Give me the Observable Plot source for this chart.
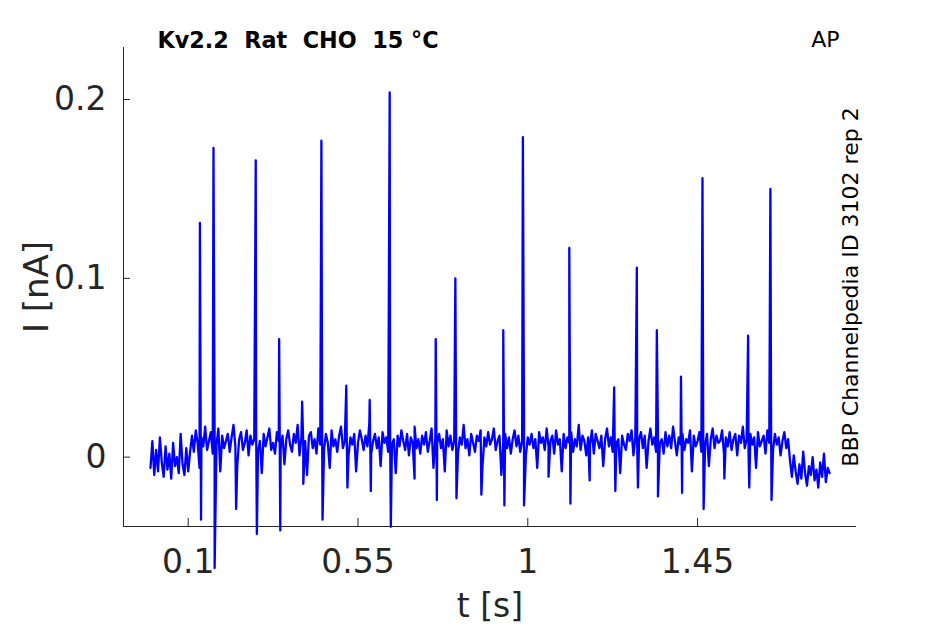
<!DOCTYPE html>
<html>
<head>
<meta charset="utf-8">
<script src="https://cdn.jsdelivr.net/npm/d3@7"></script>
<script src="https://cdn.jsdelivr.net/npm/@observablehq/plot@0.6"></script>
<style>
  html, body { margin: 0; padding: 0; background: #ffffff; }
  svg text { white-space: pre; }
</style>
</head>
<body>
<div id="chart"></div>
<script>
// ---- data: time in s, baseline current read in pA (converted to nA below) ----
const sampleStart = 0;
const sampleStep = 0.005;
const baselinePA = [
  -6, 9, -10, 4, -8, 11, -3, -11, 6, -7, 2, -12, 8, -5, 0, -9, 13, -4, -10, 5, -8, 3,
  12, 3, 15, 8, -6, 11, 6, 17, 4, 9,
  14, 2, 10, 7, 16, -8, 12, 5, 9, 13,
  3, 11, 18, 6, -5, 10, 14, 4, 8, 15,
  1, 12, 7, 10, 17, 3, 9, -9, 13, 6,
  11, 16, 4, 8, 2, 14, 9, 5, 12, -4,
  10, 15, 7, 3, 13, 8, 18, 1, 11, 6,
  9, -10, 12, 14, 5, 10, 2, 16, 7, 11,
  4, 13, 8, -6, 15, 6, 10, 3, 12, 17,
  5, 9, 14, 1, 11, 7, 13, -8, 8, 15,
  10, 4, 12, 6, 19, 2, 9, 13, 5, 11,
  -5, 14, 8, 11, 3, 16, 7, 10, -9, 12,
  6, 15, 9, 4, 13, 1, 11, 8, 17, 5,
  10, 2, 12, 7, 14, 3, 9, 16, -6, 11,
  8, 13, 5, 10, -8, 15, 6, 12, 4, 9,
  14, 2, 11, 7, 18, 5, 10, 1, 13, 8,
  3, 12, 9, 15, -5, 11, 6, 14, 7, 10,
  16, 4, 9, 12, -10, 8, 13, 5, 11, 2,
  10, 15, 6, 12, 3, 9, 17, 1, 11, 7,
  13, 5, 10, -6, 14, 8, 11, 4, 16, 6,
  9, 12, 2, 15, 7, 10, -8, 13, 5, 11,
  8, 14, 3, 10, 6, 18, 4, 12, 9, 1,
  11, 7, 15, 2, 13, 9, 5, 12, -5, 10,
  16, 6, 11, 3, 14, 8, 10, -9, 12, 7,
  4, 13, 9, 15, 1, 11, 6, 10, 14, 5,
  12, -6, 9, 16, 7, 11, 3, 13, 8, 10,
  2, 14, 6, 12, 5, 17, 9, 1, 11, 7,
  13, 4, 10, 8, 15, -8, 12, 6, 9, 14,
  3, 11, 7, 13, -5, 10, 16, 5, 12, 8,
  9, 15, 2, 11, 6, 14, 4, 10, 13, 1,
  12, 8, 17, 5, 10, 3, 13, 7, 11, -6,
  14, 6, 9, 12, 2, 15, 8, 10, 4, 13,
  7, 11, 1, 9, 14, 5, 10,
  -2, -11, 1, -8, -15, -4, -12, 3, -9, -16, -5, -10, 0, -13, -7, -17, -3, -11, 2, -14, -6, -9
];
const spikeTimes   = [0.131, 0.167, 0.279, 0.341, 0.402, 0.453, 0.519, 0.581, 0.634, 0.756, 0.808, 0.935, 0.987, 1.110, 1.229, 1.289, 1.342, 1.406, 1.463, 1.584, 1.643];
const spikePeaks   = [0.131, 0.173, 0.166, 0.066, 0.031, 0.177, 0.040, 0.032, 0.204, 0.066, 0.100, 0.071, 0.179, 0.117, 0.039, 0.106, 0.071, 0.045, 0.156, 0.068, 0.150];
const spikeTroughs = [-0.035, -0.062, -0.043, -0.041, -0.015, -0.035, -0.017, -0.019, -0.039, -0.024, -0.023, -0.027, -0.027, -0.026, -0.019, -0.017, -0.022, -0.020, -0.029, -0.017, -0.024];
const troughLag = 0.003;
const dipTimes  = [0.227, 0.700, 0.877, 1.055, 1.164, 1.521];
const dipValues = [-0.029, -0.012, -0.021, -0.011, -0.013, -0.012];

const xTicks = [0.1, 0.55, 1, 1.45];
const yTicks = [0, 0.1, 0.2];
const xDomain = [-0.0715, 1.8712];
const yDomain = [-0.0388, 0.2291];

const titleText = "Kv2.2  Rat  CHO  15 °C";
const cornerText = "AP";
const sideText = "BBP Channelpedia ID 3102 rep 2";
const xLabel = "t [s]";
const yLabel = "I [nA]";

// ---- build trace table ----
const trace = [];
baselinePA.forEach((v, i) => trace.push({t: sampleStart + i * sampleStep, I: v / 1000}));
spikeTimes.forEach((t, i) => {
  trace.push({t: t, I: spikePeaks[i]});
  trace.push({t: t + troughLag, I: spikeTroughs[i]});
});
dipTimes.forEach((t, i) => trace.push({t: t, I: dipValues[i]}));
trace.sort((a, b) => a.t - b.t);

const axisColor = "#262626";
const frameW = 945 - 123 - 89;
const frameH = 624 - 47 - 98;

const chart = Plot.plot({
  width: 945,
  height: 624,
  marginLeft: 123,
  marginRight: 89,
  marginTop: 47,
  marginBottom: 98,
  style: {fontFamily: "DejaVu Sans", background: "#ffffff", overflow: "visible", color: axisColor},
  x: {domain: xDomain},
  y: {domain: yDomain},
  marks: [
    Plot.ruleX([xDomain[0]], {stroke: axisColor, strokeWidth: 1}),
    Plot.ruleY([yDomain[0]], {stroke: axisColor, strokeWidth: 1}),
    Plot.tickX(xTicks, {x: d => d, stroke: axisColor, insetTop: frameH - 8}),
    Plot.tickY(yTicks, {y: d => d, stroke: axisColor, insetRight: frameW - 7}),
    Plot.axisX({ticks: xTicks, tickSize: 0, tickPadding: 23, fontSize: 33, tickFormat: d => String(d), label: null, fill: axisColor}),
    Plot.axisY({ticks: yTicks, tickSize: 0, tickPadding: 17, fontSize: 33, tickFormat: d => String(d), label: null, fill: axisColor}),
    Plot.line(trace, {x: "t", y: "I", stroke: "#0000ff", strokeWidth: 2.3}),
    Plot.text([xLabel], {frameAnchor: "bottom", textAnchor: "middle", lineAnchor: "middle", dy: 80, fontSize: 33, fill: axisColor}),
    Plot.text([yLabel], {frameAnchor: "left", textAnchor: "middle", lineAnchor: "middle", dx: -86, rotate: -90, fontSize: 34, fill: axisColor}),
    Plot.text([titleText], {frameAnchor: "top-left", textAnchor: "start", lineAnchor: "bottom", dx: 34, dy: 0, fontSize: 22.3, fontWeight: "bold", fill: "#000000"}),
    Plot.text([cornerText], {frameAnchor: "top-right", textAnchor: "end", lineAnchor: "bottom", dx: -17, dy: -1, fontSize: 22, fill: "#000000"}),
    Plot.text([sideText], {frameAnchor: "right", textAnchor: "middle", lineAnchor: "bottom", rotate: -90, dx: 1, fontSize: 22, fill: "#000000"})
  ]
});
document.getElementById("chart").appendChild(chart);
</script>
</body>
</html>
